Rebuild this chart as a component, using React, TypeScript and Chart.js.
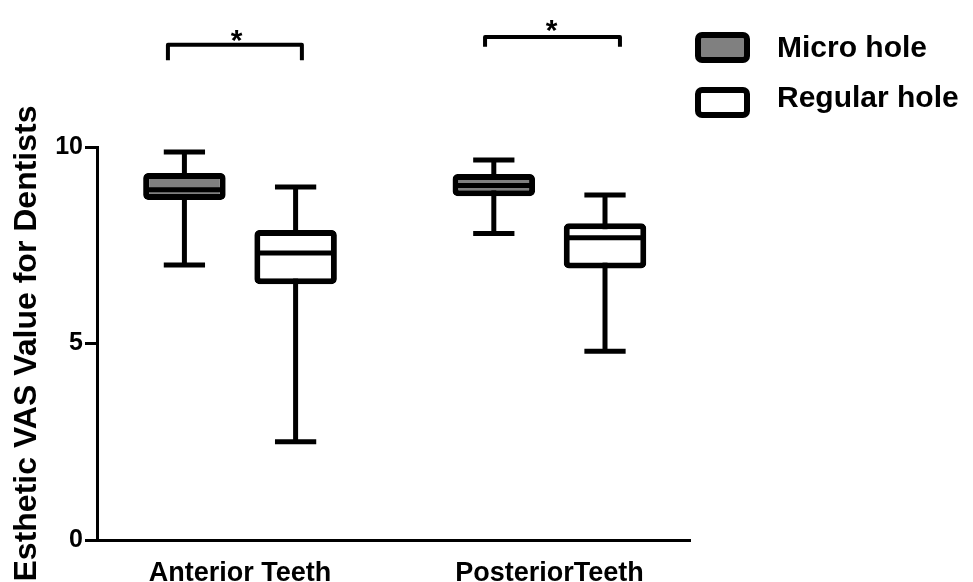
import React, { useEffect, useRef } from 'react';
import { Chart, registerables } from 'chart.js';

Chart.register(...registerables);

// ---- data ----
const categories = ['Anterior Teeth', 'PosteriorTeeth'];
const categoryPositions = [1, 2];
const seriesNames = ['Micro hole', 'Regular hole'];

const microMin = [7.0, 7.8];
const microQ1 = [8.65, 8.75];
const microMedian = [8.91, 9.02];
const microQ3 = [9.34, 9.31];
const microMax = [9.87, 9.67];

const regularMin = [2.5, 4.8];
const regularQ1 = [6.51, 6.91];
const regularMedian = [7.3, 7.69];
const regularQ3 = [7.89, 8.06];
const regularMax = [8.98, 8.78];

const yTickValues = [0, 5, 10];
const significanceMarks = ['*', '*'];

// ---- styling / annotation geometry (not data) ----
const FONT = '"Liberation Sans", Arial, Helvetica, sans-serif';
const seriesFill = ['#808080', '#ffffff'];
const brackets = [
  { x0: 0.767, x1: 1.2, yTop: 12.6, yEnd: 12.21, starX: 0.989, starY: 12.47 },
  { x0: 1.792, x1: 2.228, yTop: 12.8, yEnd: 12.55, starX: 2.007, starY: 12.71 },
];

const stats = [
  { min: microMin, med: microMedian, max: microMax },
  { min: regularMin, med: regularMedian, max: regularMax },
];

const boxPlugin = {
  id: 'boxWhiskers',
  beforeDatasetsDraw(chart: any) {
    const ctx = chart.ctx;
    const ys = chart.scales.y;
    chart.data.datasets.forEach((_ds: any, di: number) => {
      const meta = chart.getDatasetMeta(di);
      const st = stats[di];
      meta.data.forEach((bar: any, i: number) => {
        const { x, width } = bar.getProps(['x', 'width'], true);
        const yMin = ys.getPixelForValue(st.min[i]);
        const yMax = ys.getPixelForValue(st.max[i]);
        const cw = width / 2;
        ctx.save();
        ctx.strokeStyle = '#000';
        ctx.lineWidth = 5;
        ctx.lineCap = 'butt';
        ctx.beginPath();
        ctx.moveTo(x, yMin);
        ctx.lineTo(x, yMax);
        ctx.stroke();
        ctx.beginPath();
        ctx.moveTo(x - cw / 2, yMin);
        ctx.lineTo(x + cw / 2, yMin);
        ctx.moveTo(x - cw / 2, yMax);
        ctx.lineTo(x + cw / 2, yMax);
        ctx.stroke();
        ctx.restore();
      });
    });
  },
  afterDatasetsDraw(chart: any) {
    const ctx = chart.ctx;
    const ys = chart.scales.y;
    chart.data.datasets.forEach((_ds: any, di: number) => {
      const meta = chart.getDatasetMeta(di);
      const st = stats[di];
      meta.data.forEach((bar: any, i: number) => {
        const { x, width } = bar.getProps(['x', 'width'], true);
        const yMed = ys.getPixelForValue(st.med[i]);
        ctx.save();
        ctx.strokeStyle = '#000';
        ctx.lineWidth = 5;
        ctx.beginPath();
        ctx.moveTo(x - width / 2 + 1, yMed);
        ctx.lineTo(x + width / 2 - 1, yMed);
        ctx.stroke();
        ctx.restore();
      });
    });
  },
};

function roundRect(ctx: CanvasRenderingContext2D, x: number, y: number, w: number, h: number, r: number) {
  ctx.beginPath();
  ctx.moveTo(x + r, y);
  ctx.lineTo(x + w - r, y);
  ctx.arcTo(x + w, y, x + w, y + r, r);
  ctx.lineTo(x + w, y + h - r);
  ctx.arcTo(x + w, y + h, x + w - r, y + h, r);
  ctx.lineTo(x + r, y + h);
  ctx.arcTo(x, y + h, x, y + h - r, r);
  ctx.lineTo(x, y + r);
  ctx.arcTo(x, y, x + r, y, r);
  ctx.closePath();
}

const annotationPlugin = {
  id: 'annotations',
  afterDraw(chart: any) {
    const ctx = chart.ctx;
    const xs = chart.scales.x;
    const ys = chart.scales.y;
    ctx.save();
    // significance brackets
    brackets.forEach((b, i) => {
      const px0 = xs.getPixelForValue(b.x0);
      const px1 = xs.getPixelForValue(b.x1);
      const pyTop = ys.getPixelForValue(b.yTop);
      const pyEnd = ys.getPixelForValue(b.yEnd);
      ctx.strokeStyle = '#000';
      ctx.lineWidth = 4;
      ctx.lineJoin = 'round';
      ctx.beginPath();
      ctx.moveTo(px0, pyEnd);
      ctx.lineTo(px0, pyTop);
      ctx.lineTo(px1, pyTop);
      ctx.lineTo(px1, pyEnd);
      ctx.stroke();
      ctx.fillStyle = '#000';
      ctx.font = `bold 30px ${FONT}`;
      ctx.textAlign = 'center';
      ctx.textBaseline = 'alphabetic';
      ctx.fillText(significanceMarks[i], xs.getPixelForValue(b.starX), ys.getPixelForValue(b.starY));
    });
    // legend
    const boxTops = [32, 87];
    const baselines = [57, 107];
    chart.data.datasets.forEach((ds: any, di: number) => {
      const bx = 695, by = boxTops[di], bw = 55, bh = 31, lw = 6;
      roundRect(ctx, bx + lw / 2, by + lw / 2, bw - lw, bh - lw, 4);
      ctx.fillStyle = ds.backgroundColor;
      ctx.fill();
      ctx.lineWidth = lw;
      ctx.strokeStyle = '#000';
      ctx.stroke();
      ctx.fillStyle = '#000';
      ctx.font = `bold 30px ${FONT}`;
      ctx.textAlign = 'left';
      ctx.textBaseline = 'alphabetic';
      ctx.fillText(ds.label, 777, baselines[di]);
    });
    ctx.restore();
  },
};

export default function App() {
  const canvasRef = useRef<HTMLCanvasElement | null>(null);

  useEffect(() => {
    if (!canvasRef.current) return;
    const datasetsQ1 = [microQ1, regularQ1];
    const datasetsQ3 = [microQ3, regularQ3];
    const chart = new Chart(canvasRef.current, {
      type: 'bar',
      data: {
        datasets: seriesNames.map((name, si) => ({
          label: name,
          data: categoryPositions.map((p, i) => ({ x: p, y: [datasetsQ1[si][i], datasetsQ3[si][i]] })),
          backgroundColor: seriesFill[si],
          borderColor: '#000',
          borderWidth: 6,
          borderSkipped: false,
          borderRadius: 5,
          categoryPercentage: 0.7188,
          barPercentage: 0.742,
        })) as any,
      },
      options: {
        animation: false,
        responsive: true,
        maintainAspectRatio: false,
        layout: { padding: { top: 147, right: 283, bottom: 0, left: 0 } },
        plugins: { legend: { display: false }, tooltip: { enabled: false } },
        scales: {
          x: {
            type: 'linear',
            min: 0.5378,
            max: 2.4544,
            offset: false,
            afterBuildTicks: (s: any) => {
              s.ticks = categoryPositions.map((v) => ({ value: v }));
            },
            afterFit: (s: any) => {
              s.height = 42;
            },
            grid: { display: false, offset: false },
            border: { display: true, color: '#000', width: 3 },
            ticks: {
              callback: (_v: any, index: number) => categories[index],
              font: { family: FONT, size: 27, weight: 'bold', lineHeight: 1.2 },
              color: '#000',
              padding: 9,
              maxRotation: 0,
              autoSkip: false,
            },
          },
          y: {
            min: 0,
            max: 10,
            afterBuildTicks: (s: any) => {
              s.ticks = yTickValues.map((v) => ({ value: v }));
            },
            afterFit: (s: any) => {
              s.width = 97;
            },
            grid: {
              display: true,
              drawOnChartArea: false,
              drawTicks: true,
              tickLength: 12,
              tickWidth: 3,
              tickColor: '#000',
              color: '#000',
            },
            border: { display: true, color: '#000', width: 3 },
            ticks: {
              font: { family: FONT, size: 25, weight: 'bold' },
              color: '#000',
              padding: 2,
            },
            title: {
              display: true,
              text: 'Esthetic VAS Value for Dentists',
              color: '#000',
              font: { family: FONT, size: 32, weight: 'bold', lineHeight: 1 },
              padding: { top: 11, bottom: 0 },
            },
          },
        },
      } as any,
      plugins: [boxPlugin, annotationPlugin],
    });
    return () => chart.destroy();
  }, []);

  return (
    <div style={{ position: 'absolute', left: 0, top: 0, width: 973, height: 582, background: '#fff' }}>
      <canvas ref={canvasRef} />
    </div>
  );
}
